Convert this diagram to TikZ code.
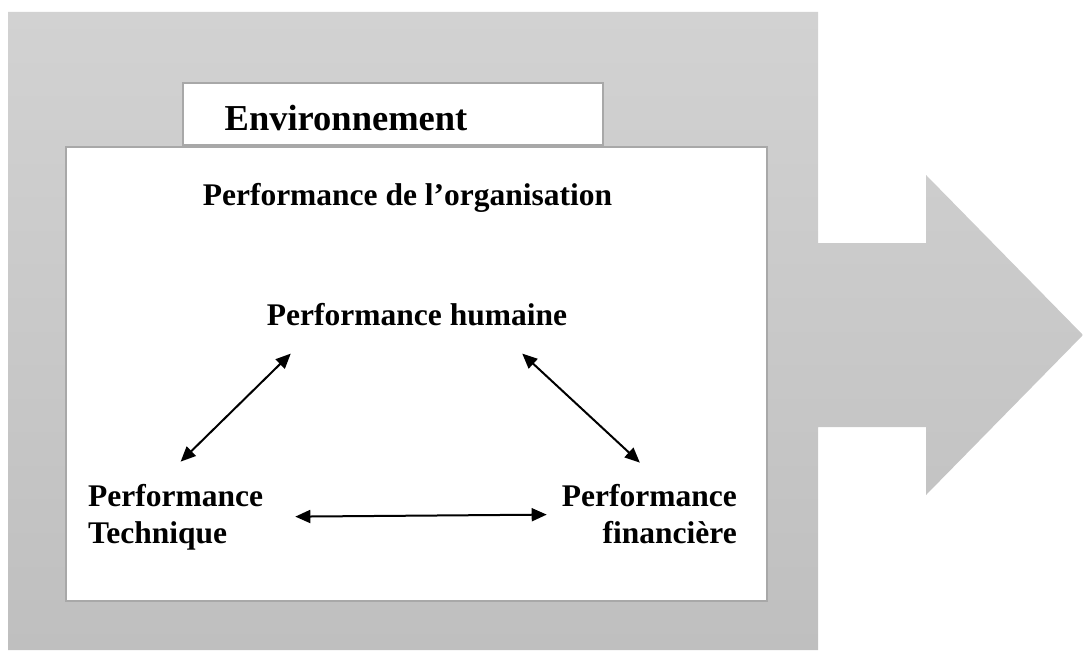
\documentclass[tikz,border=0pt]{standalone}
\usepackage{fontspec}
\setmainfont{Liberation Serif}
\usetikzlibrary{arrows.meta, positioning}
\definecolor{grishaut}{RGB}{210,210,210}
\definecolor{grisbas}{RGB}{191,191,191}
\definecolor{griscadre}{RGB}{168,168,168}

\begin{document}
\begin{tikzpicture}[x=1pt, y=-1pt,
    cadre/.style={fill=white, draw=griscadre, line width=2.5pt},
    texte/.style={font=\bfseries\fontsize{31.5}{37}\selectfont, inner sep=0pt},
    lien/.style={<->, >={Triangle[length=15pt,width=13pt]}, line width=2pt}]
  \useasboundingbox (0,0) rectangle (1083,650);

  % Fond gris + flèche de sortie
  \shade[top color=grishaut, bottom color=grisbas]
    (8,12) -- (818,12) -- (818,243) -- (926,243) -- (926,175) -- (1083,335)
    -- (926,495) -- (926,427) -- (818,427) -- (818,650) -- (8,650) -- cycle;

  % Cadre de l'organisation et onglet
  \draw[cadre] (66,147) rectangle (767,601);
  \draw[cadre] (183,83) rectangle (603,145);
  \node[texte, font=\bfseries\fontsize{36.5}{40}\selectfont, anchor=base] (env) at (346,130) {Environnement};

  % Titres (ancre base = dernière ligne)
  \node[texte, anchor=base] (org) at (407.5,205) {Performance de l’organisation};
  \node[texte, anchor=base] (hum) at (417,325) {Performance humaine};
  \node[texte, align=left, anchor=base west] (tech) at (88,543) {Performance\\Technique};
  \node[texte, align=right, anchor=base east] (fin) at (737,543) {Performance\\financière};

  % Liens entre les trois performances
  \draw[lien] ([shift={(5,-22)}]tech.north) -- ([shift={(24,28)}]hum.south west);
  \draw[lien] ([shift={(32,33)}]tech.north east) -- ([shift={(-15,31)}]fin.north west);
  \draw[lien] ([shift={(-45,28)}]hum.south east) -- ([shift={(-9.5,-21)}]fin.north);
\end{tikzpicture}
\end{document}
